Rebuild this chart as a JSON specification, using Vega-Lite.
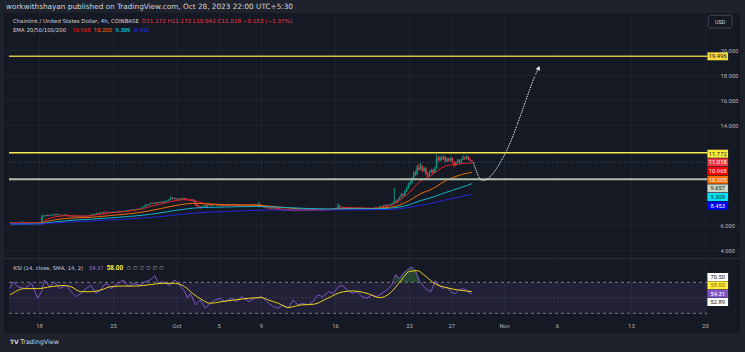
{
"$schema":"https://vega.github.io/schema/vega-lite/v6.json",
"width":736,"height":320,"autosize":"none",
"padding":{"left":4,"top":13,"right":5,"bottom":19},
"background":"#1e222d",
"config":{"view":{"fill":"#151924","stroke":null},"font":"Roboto",
 "axis":{"domain":false,"ticks":false,"labelFont":"Roboto","labelFontSize":5.8,"labelColor":"#b2b5be","gridColor":"#1d2130","gridWidth":1}},
"title":{"text":"workwithshayan published on TradingView.com, Oct 28, 2023 22:00 UTC+5:30","anchor":"start","frame":"group","offset":2,"fontSize":7.3,"fontWeight":"normal","font":"DejaVu Sans","color":"#d1d4dc","dx":2},
"datasets":{
"ticks":[
{"d":"2023-09-18T00:00","lab":"18"},{"d":"2023-09-25T00:00","lab":"25"},{"d":"2023-10-01T00:00","lab":"Oct"},{"d":"2023-10-05T00:00","lab":"5"},
{"d":"2023-10-09T00:00","lab":"9"},{"d":"2023-10-16T00:00","lab":"16"},{"d":"2023-10-23T00:00","lab":"23"},{"d":"2023-10-27T00:00","lab":"27"},
{"d":"2023-11-01T00:00","lab":"Nov"},{"d":"2023-11-06T00:00","lab":"6"},{"d":"2023-11-13T00:00","lab":"13"},{"d":"2023-11-20T00:00","lab":"20"}
],
"c":[
{"t":"2023-09-15T05:30","o":6.17,"h":6.2,"l":6.15,"c":6.18},
{"t":"2023-09-15T09:30","o":6.18,"h":6.19,"l":6.14,"c":6.16},
{"t":"2023-09-15T13:30","o":6.16,"h":6.24,"l":6.15,"c":6.2},
{"t":"2023-09-15T17:30","o":6.2,"h":6.22,"l":6.15,"c":6.17},
{"t":"2023-09-15T21:30","o":6.17,"h":6.18,"l":6.12,"c":6.15},
{"t":"2023-09-16T01:30","o":6.15,"h":6.18,"l":6.13,"c":6.16},
{"t":"2023-09-16T05:30","o":6.16,"h":6.2,"l":6.15,"c":6.18},
{"t":"2023-09-16T09:30","o":6.18,"h":6.3,"l":6.17,"c":6.22},
{"t":"2023-09-16T13:30","o":6.22,"h":6.24,"l":6.17,"c":6.19},
{"t":"2023-09-16T17:30","o":6.19,"h":6.21,"l":6.15,"c":6.17},
{"t":"2023-09-16T21:30","o":6.17,"h":6.19,"l":6.14,"c":6.16},
{"t":"2023-09-17T01:30","o":6.16,"h":6.18,"l":6.12,"c":6.15},
{"t":"2023-09-17T05:30","o":6.15,"h":6.2,"l":6.13,"c":6.18},
{"t":"2023-09-17T09:30","o":6.18,"h":6.19,"l":6.11,"c":6.14},
{"t":"2023-09-17T13:30","o":6.14,"h":6.18,"l":6.12,"c":6.16},
{"t":"2023-09-17T17:30","o":6.16,"h":6.22,"l":6.15,"c":6.19},
{"t":"2023-09-17T21:30","o":6.19,"h":6.21,"l":6.14,"c":6.17},
{"t":"2023-09-18T01:30","o":6.17,"h":6.26,"l":6.15,"c":6.22},
{"t":"2023-09-18T05:30","o":6.22,"h":6.85,"l":6.2,"c":6.7},
{"t":"2023-09-18T09:30","o":6.7,"h":6.82,"l":6.66,"c":6.76},
{"t":"2023-09-18T13:30","o":6.76,"h":6.8,"l":6.68,"c":6.72},
{"t":"2023-09-18T17:30","o":6.72,"h":6.86,"l":6.7,"c":6.8},
{"t":"2023-09-18T21:30","o":6.8,"h":6.82,"l":6.71,"c":6.74},
{"t":"2023-09-19T01:30","o":6.74,"h":6.82,"l":6.72,"c":6.78},
{"t":"2023-09-19T05:30","o":6.78,"h":6.9,"l":6.76,"c":6.83},
{"t":"2023-09-19T09:30","o":6.83,"h":6.86,"l":6.76,"c":6.79},
{"t":"2023-09-19T13:30","o":6.79,"h":6.92,"l":6.77,"c":6.86},
{"t":"2023-09-19T17:30","o":6.86,"h":6.88,"l":6.78,"c":6.81},
{"t":"2023-09-19T21:30","o":6.81,"h":6.83,"l":6.74,"c":6.77},
{"t":"2023-09-20T01:30","o":6.77,"h":6.84,"l":6.75,"c":6.8},
{"t":"2023-09-20T05:30","o":6.8,"h":6.82,"l":6.73,"c":6.76},
{"t":"2023-09-20T09:30","o":6.76,"h":6.88,"l":6.74,"c":6.82},
{"t":"2023-09-20T13:30","o":6.82,"h":6.84,"l":6.71,"c":6.74},
{"t":"2023-09-20T17:30","o":6.74,"h":6.77,"l":6.66,"c":6.7},
{"t":"2023-09-20T21:30","o":6.7,"h":6.76,"l":6.68,"c":6.73},
{"t":"2023-09-21T01:30","o":6.73,"h":6.75,"l":6.66,"c":6.69},
{"t":"2023-09-21T05:30","o":6.69,"h":6.75,"l":6.67,"c":6.72},
{"t":"2023-09-21T09:30","o":6.72,"h":6.74,"l":6.62,"c":6.66},
{"t":"2023-09-21T13:30","o":6.66,"h":6.73,"l":6.63,"c":6.7},
{"t":"2023-09-21T17:30","o":6.7,"h":6.72,"l":6.63,"c":6.67},
{"t":"2023-09-21T21:30","o":6.67,"h":6.74,"l":6.65,"c":6.71},
{"t":"2023-09-22T01:30","o":6.71,"h":6.73,"l":6.64,"c":6.68},
{"t":"2023-09-22T05:30","o":6.68,"h":6.75,"l":6.66,"c":6.72},
{"t":"2023-09-22T09:30","o":6.72,"h":6.74,"l":6.66,"c":6.69},
{"t":"2023-09-22T13:30","o":6.69,"h":6.77,"l":6.67,"c":6.74},
{"t":"2023-09-22T17:30","o":6.74,"h":6.82,"l":6.72,"c":6.78},
{"t":"2023-09-22T21:30","o":6.78,"h":6.86,"l":6.76,"c":6.82},
{"t":"2023-09-23T01:30","o":6.82,"h":6.9,"l":6.8,"c":6.86},
{"t":"2023-09-23T05:30","o":6.86,"h":6.94,"l":6.84,"c":6.9},
{"t":"2023-09-23T09:30","o":6.9,"h":7.0,"l":6.88,"c":6.95},
{"t":"2023-09-23T13:30","o":6.95,"h":6.98,"l":6.89,"c":6.92},
{"t":"2023-09-23T17:30","o":6.92,"h":7.05,"l":6.9,"c":7.0},
{"t":"2023-09-23T21:30","o":7.0,"h":7.02,"l":6.93,"c":6.96},
{"t":"2023-09-24T01:30","o":6.96,"h":7.06,"l":6.94,"c":7.02},
{"t":"2023-09-24T05:30","o":7.02,"h":7.1,"l":7.0,"c":7.06},
{"t":"2023-09-24T09:30","o":7.06,"h":7.08,"l":6.98,"c":7.01},
{"t":"2023-09-24T13:30","o":7.01,"h":7.07,"l":6.99,"c":7.04},
{"t":"2023-09-24T17:30","o":7.04,"h":7.06,"l":6.95,"c":6.98},
{"t":"2023-09-24T21:30","o":6.98,"h":7.06,"l":6.96,"c":7.03},
{"t":"2023-09-25T01:30","o":7.03,"h":7.09,"l":7.01,"c":7.06},
{"t":"2023-09-25T05:30","o":7.06,"h":7.08,"l":6.99,"c":7.02},
{"t":"2023-09-25T09:30","o":7.02,"h":7.11,"l":7.0,"c":7.08},
{"t":"2023-09-25T13:30","o":7.08,"h":7.16,"l":7.06,"c":7.12},
{"t":"2023-09-25T17:30","o":7.12,"h":7.14,"l":7.02,"c":7.05},
{"t":"2023-09-25T21:30","o":7.05,"h":7.13,"l":7.03,"c":7.1},
{"t":"2023-09-26T01:30","o":7.1,"h":7.17,"l":7.08,"c":7.14},
{"t":"2023-09-26T05:30","o":7.14,"h":7.22,"l":7.12,"c":7.18},
{"t":"2023-09-26T09:30","o":7.18,"h":7.2,"l":7.09,"c":7.12},
{"t":"2023-09-26T13:30","o":7.12,"h":7.24,"l":7.1,"c":7.2},
{"t":"2023-09-26T17:30","o":7.2,"h":7.28,"l":7.18,"c":7.24},
{"t":"2023-09-26T21:30","o":7.24,"h":7.26,"l":7.15,"c":7.18},
{"t":"2023-09-27T01:30","o":7.18,"h":7.26,"l":7.16,"c":7.22},
{"t":"2023-09-27T05:30","o":7.22,"h":7.32,"l":7.2,"c":7.28},
{"t":"2023-09-27T09:30","o":7.28,"h":7.31,"l":7.21,"c":7.24},
{"t":"2023-09-27T13:30","o":7.24,"h":7.38,"l":7.22,"c":7.34},
{"t":"2023-09-27T17:30","o":7.34,"h":7.48,"l":7.32,"c":7.42},
{"t":"2023-09-27T21:30","o":7.42,"h":7.56,"l":7.4,"c":7.5},
{"t":"2023-09-28T01:30","o":7.5,"h":7.7,"l":7.48,"c":7.62},
{"t":"2023-09-28T05:30","o":7.62,"h":7.66,"l":7.54,"c":7.58},
{"t":"2023-09-28T09:30","o":7.58,"h":7.73,"l":7.56,"c":7.68},
{"t":"2023-09-28T13:30","o":7.68,"h":7.8,"l":7.65,"c":7.74},
{"t":"2023-09-28T17:30","o":7.74,"h":7.78,"l":7.66,"c":7.7},
{"t":"2023-09-28T21:30","o":7.7,"h":7.84,"l":7.68,"c":7.78},
{"t":"2023-09-29T01:30","o":7.78,"h":7.81,"l":7.7,"c":7.74},
{"t":"2023-09-29T05:30","o":7.74,"h":7.87,"l":7.72,"c":7.82},
{"t":"2023-09-29T09:30","o":7.82,"h":7.85,"l":7.75,"c":7.78},
{"t":"2023-09-29T13:30","o":7.78,"h":7.92,"l":7.76,"c":7.86},
{"t":"2023-09-29T17:30","o":7.86,"h":7.89,"l":7.77,"c":7.8},
{"t":"2023-09-29T21:30","o":7.8,"h":7.95,"l":7.78,"c":7.9},
{"t":"2023-09-30T01:30","o":7.9,"h":8.01,"l":7.88,"c":7.96},
{"t":"2023-09-30T05:30","o":7.96,"h":8.08,"l":7.93,"c":8.02},
{"t":"2023-09-30T09:30","o":8.02,"h":8.28,"l":8.0,"c":8.18},
{"t":"2023-09-30T13:30","o":8.18,"h":8.22,"l":8.06,"c":8.1},
{"t":"2023-09-30T17:30","o":8.1,"h":8.21,"l":8.07,"c":8.16},
{"t":"2023-09-30T21:30","o":8.16,"h":8.18,"l":8.04,"c":8.08},
{"t":"2023-10-01T01:30","o":8.08,"h":8.11,"l":8.0,"c":8.04},
{"t":"2023-10-01T05:30","o":8.04,"h":8.16,"l":8.02,"c":8.12},
{"t":"2023-10-01T09:30","o":8.12,"h":8.14,"l":8.02,"c":8.06},
{"t":"2023-10-01T13:30","o":8.06,"h":8.2,"l":8.04,"c":8.14},
{"t":"2023-10-01T17:30","o":8.14,"h":8.18,"l":8.06,"c":8.1},
{"t":"2023-10-01T21:30","o":8.1,"h":8.13,"l":8.01,"c":8.05},
{"t":"2023-10-02T01:30","o":8.05,"h":8.08,"l":7.96,"c":8.0},
{"t":"2023-10-02T05:30","o":8.0,"h":8.03,"l":7.92,"c":7.96},
{"t":"2023-10-02T09:30","o":7.96,"h":8.06,"l":7.93,"c":8.02},
{"t":"2023-10-02T13:30","o":8.02,"h":8.05,"l":7.84,"c":7.88},
{"t":"2023-10-02T17:30","o":7.88,"h":7.9,"l":7.56,"c":7.62},
{"t":"2023-10-02T21:30","o":7.62,"h":7.66,"l":7.46,"c":7.52},
{"t":"2023-10-03T01:30","o":7.52,"h":7.56,"l":7.38,"c":7.45},
{"t":"2023-10-03T05:30","o":7.45,"h":7.48,"l":7.32,"c":7.38},
{"t":"2023-10-03T09:30","o":7.38,"h":7.54,"l":7.35,"c":7.5},
{"t":"2023-10-03T13:30","o":7.5,"h":7.6,"l":7.47,"c":7.56},
{"t":"2023-10-03T17:30","o":7.56,"h":7.59,"l":7.44,"c":7.48},
{"t":"2023-10-03T21:30","o":7.48,"h":7.62,"l":7.46,"c":7.58},
{"t":"2023-10-04T01:30","o":7.58,"h":7.66,"l":7.55,"c":7.62},
{"t":"2023-10-04T05:30","o":7.62,"h":7.64,"l":7.52,"c":7.55},
{"t":"2023-10-04T09:30","o":7.55,"h":7.63,"l":7.53,"c":7.6},
{"t":"2023-10-04T13:30","o":7.6,"h":7.7,"l":7.58,"c":7.66},
{"t":"2023-10-04T17:30","o":7.66,"h":7.68,"l":7.55,"c":7.58},
{"t":"2023-10-04T21:30","o":7.58,"h":7.66,"l":7.56,"c":7.63},
{"t":"2023-10-05T01:30","o":7.63,"h":7.65,"l":7.54,"c":7.57},
{"t":"2023-10-05T05:30","o":7.57,"h":7.6,"l":7.48,"c":7.52},
{"t":"2023-10-05T09:30","o":7.52,"h":7.63,"l":7.5,"c":7.6},
{"t":"2023-10-05T13:30","o":7.6,"h":7.62,"l":7.52,"c":7.55},
{"t":"2023-10-05T17:30","o":7.55,"h":7.66,"l":7.53,"c":7.62},
{"t":"2023-10-05T21:30","o":7.62,"h":7.64,"l":7.55,"c":7.58},
{"t":"2023-10-06T01:30","o":7.58,"h":7.63,"l":7.56,"c":7.6},
{"t":"2023-10-06T05:30","o":7.6,"h":7.7,"l":7.58,"c":7.66},
{"t":"2023-10-06T09:30","o":7.66,"h":7.68,"l":7.55,"c":7.58},
{"t":"2023-10-06T13:30","o":7.58,"h":7.67,"l":7.56,"c":7.64},
{"t":"2023-10-06T17:30","o":7.64,"h":7.66,"l":7.53,"c":7.56},
{"t":"2023-10-06T21:30","o":7.56,"h":7.65,"l":7.54,"c":7.62},
{"t":"2023-10-07T01:30","o":7.62,"h":7.64,"l":7.56,"c":7.58},
{"t":"2023-10-07T05:30","o":7.58,"h":7.63,"l":7.56,"c":7.61},
{"t":"2023-10-07T09:30","o":7.61,"h":7.62,"l":7.54,"c":7.56},
{"t":"2023-10-07T13:30","o":7.56,"h":7.62,"l":7.54,"c":7.6},
{"t":"2023-10-07T17:30","o":7.6,"h":7.61,"l":7.53,"c":7.55},
{"t":"2023-10-07T21:30","o":7.55,"h":7.61,"l":7.53,"c":7.59},
{"t":"2023-10-08T01:30","o":7.59,"h":7.64,"l":7.57,"c":7.62},
{"t":"2023-10-08T05:30","o":7.62,"h":7.63,"l":7.55,"c":7.57},
{"t":"2023-10-08T09:30","o":7.57,"h":7.68,"l":7.56,"c":7.65},
{"t":"2023-10-08T13:30","o":7.65,"h":7.67,"l":7.58,"c":7.6},
{"t":"2023-10-08T17:30","o":7.6,"h":7.85,"l":7.58,"c":7.68},
{"t":"2023-10-08T21:30","o":7.68,"h":7.7,"l":7.55,"c":7.58},
{"t":"2023-10-09T01:30","o":7.58,"h":7.6,"l":7.46,"c":7.5},
{"t":"2023-10-09T05:30","o":7.5,"h":7.52,"l":7.38,"c":7.42},
{"t":"2023-10-09T09:30","o":7.42,"h":7.45,"l":7.32,"c":7.36},
{"t":"2023-10-09T13:30","o":7.36,"h":7.43,"l":7.33,"c":7.4},
{"t":"2023-10-09T17:30","o":7.4,"h":7.42,"l":7.28,"c":7.32},
{"t":"2023-10-09T21:30","o":7.32,"h":7.35,"l":7.24,"c":7.28},
{"t":"2023-10-10T01:30","o":7.28,"h":7.33,"l":7.25,"c":7.3},
{"t":"2023-10-10T05:30","o":7.3,"h":7.32,"l":7.2,"c":7.24},
{"t":"2023-10-10T09:30","o":7.24,"h":7.31,"l":7.22,"c":7.28},
{"t":"2023-10-10T13:30","o":7.28,"h":7.3,"l":7.19,"c":7.22},
{"t":"2023-10-10T17:30","o":7.22,"h":7.29,"l":7.2,"c":7.26},
{"t":"2023-10-10T21:30","o":7.26,"h":7.28,"l":7.16,"c":7.2},
{"t":"2023-10-11T01:30","o":7.2,"h":7.25,"l":7.17,"c":7.22},
{"t":"2023-10-11T05:30","o":7.22,"h":7.24,"l":7.14,"c":7.17},
{"t":"2023-10-11T09:30","o":7.17,"h":7.28,"l":7.15,"c":7.24},
{"t":"2023-10-11T13:30","o":7.24,"h":7.26,"l":7.15,"c":7.18},
{"t":"2023-10-11T17:30","o":7.18,"h":7.2,"l":7.1,"c":7.14},
{"t":"2023-10-11T21:30","o":7.14,"h":7.23,"l":7.12,"c":7.2},
{"t":"2023-10-12T01:30","o":7.2,"h":7.22,"l":7.13,"c":7.16},
{"t":"2023-10-12T05:30","o":7.16,"h":7.18,"l":7.08,"c":7.12},
{"t":"2023-10-12T09:30","o":7.12,"h":7.21,"l":7.1,"c":7.18},
{"t":"2023-10-12T13:30","o":7.18,"h":7.2,"l":7.11,"c":7.14},
{"t":"2023-10-12T17:30","o":7.14,"h":7.23,"l":7.12,"c":7.2},
{"t":"2023-10-12T21:30","o":7.2,"h":7.22,"l":7.12,"c":7.15},
{"t":"2023-10-13T01:30","o":7.15,"h":7.21,"l":7.13,"c":7.18},
{"t":"2023-10-13T05:30","o":7.18,"h":7.26,"l":7.16,"c":7.22},
{"t":"2023-10-13T09:30","o":7.22,"h":7.24,"l":7.13,"c":7.16},
{"t":"2023-10-13T13:30","o":7.16,"h":7.23,"l":7.14,"c":7.2},
{"t":"2023-10-13T17:30","o":7.2,"h":7.22,"l":7.11,"c":7.14},
{"t":"2023-10-13T21:30","o":7.14,"h":7.21,"l":7.12,"c":7.19},
{"t":"2023-10-14T01:30","o":7.19,"h":7.23,"l":7.17,"c":7.21},
{"t":"2023-10-14T05:30","o":7.21,"h":7.22,"l":7.16,"c":7.18},
{"t":"2023-10-14T09:30","o":7.18,"h":7.24,"l":7.17,"c":7.22},
{"t":"2023-10-14T13:30","o":7.22,"h":7.23,"l":7.17,"c":7.19},
{"t":"2023-10-14T17:30","o":7.19,"h":7.25,"l":7.18,"c":7.23},
{"t":"2023-10-14T21:30","o":7.23,"h":7.24,"l":7.18,"c":7.2},
{"t":"2023-10-15T01:30","o":7.2,"h":7.24,"l":7.18,"c":7.22},
{"t":"2023-10-15T05:30","o":7.22,"h":7.28,"l":7.2,"c":7.26},
{"t":"2023-10-15T09:30","o":7.26,"h":7.28,"l":7.21,"c":7.23},
{"t":"2023-10-15T13:30","o":7.23,"h":7.3,"l":7.22,"c":7.28},
{"t":"2023-10-15T17:30","o":7.28,"h":7.3,"l":7.23,"c":7.25},
{"t":"2023-10-15T21:30","o":7.25,"h":7.33,"l":7.24,"c":7.3},
{"t":"2023-10-16T01:30","o":7.3,"h":7.38,"l":7.28,"c":7.34},
{"t":"2023-10-16T05:30","o":7.34,"h":7.75,"l":7.32,"c":7.55},
{"t":"2023-10-16T09:30","o":7.55,"h":7.58,"l":7.38,"c":7.42},
{"t":"2023-10-16T13:30","o":7.42,"h":7.46,"l":7.34,"c":7.38},
{"t":"2023-10-16T17:30","o":7.38,"h":7.48,"l":7.36,"c":7.44},
{"t":"2023-10-16T21:30","o":7.44,"h":7.46,"l":7.37,"c":7.4},
{"t":"2023-10-17T01:30","o":7.4,"h":7.42,"l":7.33,"c":7.36},
{"t":"2023-10-17T05:30","o":7.36,"h":7.43,"l":7.34,"c":7.4},
{"t":"2023-10-17T09:30","o":7.4,"h":7.42,"l":7.31,"c":7.34},
{"t":"2023-10-17T13:30","o":7.34,"h":7.4,"l":7.32,"c":7.38},
{"t":"2023-10-17T17:30","o":7.38,"h":7.4,"l":7.3,"c":7.33},
{"t":"2023-10-17T21:30","o":7.33,"h":7.38,"l":7.31,"c":7.36},
{"t":"2023-10-18T01:30","o":7.36,"h":7.38,"l":7.32,"c":7.34},
{"t":"2023-10-18T05:30","o":7.34,"h":7.4,"l":7.33,"c":7.38},
{"t":"2023-10-18T09:30","o":7.38,"h":7.39,"l":7.3,"c":7.32},
{"t":"2023-10-18T13:30","o":7.32,"h":7.38,"l":7.3,"c":7.36},
{"t":"2023-10-18T17:30","o":7.36,"h":7.38,"l":7.31,"c":7.33},
{"t":"2023-10-18T21:30","o":7.33,"h":7.37,"l":7.31,"c":7.35},
{"t":"2023-10-19T01:30","o":7.35,"h":7.36,"l":7.27,"c":7.3},
{"t":"2023-10-19T05:30","o":7.3,"h":7.36,"l":7.28,"c":7.34},
{"t":"2023-10-19T09:30","o":7.34,"h":7.35,"l":7.26,"c":7.29},
{"t":"2023-10-19T13:30","o":7.29,"h":7.35,"l":7.27,"c":7.33},
{"t":"2023-10-19T17:30","o":7.33,"h":7.41,"l":7.31,"c":7.38},
{"t":"2023-10-19T21:30","o":7.38,"h":7.4,"l":7.33,"c":7.36},
{"t":"2023-10-20T01:30","o":7.36,"h":7.46,"l":7.34,"c":7.42},
{"t":"2023-10-20T05:30","o":7.42,"h":7.55,"l":7.4,"c":7.5},
{"t":"2023-10-20T09:30","o":7.5,"h":7.53,"l":7.42,"c":7.46},
{"t":"2023-10-20T13:30","o":7.46,"h":7.63,"l":7.44,"c":7.58},
{"t":"2023-10-20T17:30","o":7.58,"h":7.68,"l":7.55,"c":7.62},
{"t":"2023-10-20T21:30","o":7.62,"h":7.65,"l":7.5,"c":7.55},
{"t":"2023-10-21T01:30","o":7.55,"h":7.64,"l":7.52,"c":7.6},
{"t":"2023-10-21T05:30","o":7.6,"h":7.73,"l":7.57,"c":7.68},
{"t":"2023-10-21T09:30","o":7.68,"h":7.78,"l":7.64,"c":7.72},
{"t":"2023-10-21T13:30","o":7.72,"h":8.96,"l":7.7,"c":7.9},
{"t":"2023-10-21T17:30","o":7.9,"h":7.98,"l":7.76,"c":7.82},
{"t":"2023-10-21T21:30","o":7.82,"h":8.12,"l":7.8,"c":8.05},
{"t":"2023-10-22T01:30","o":8.05,"h":8.3,"l":8.0,"c":8.2},
{"t":"2023-10-22T05:30","o":8.2,"h":8.55,"l":8.15,"c":8.45},
{"t":"2023-10-22T09:30","o":8.45,"h":8.52,"l":8.28,"c":8.35},
{"t":"2023-10-22T13:30","o":8.35,"h":8.8,"l":8.3,"c":8.7},
{"t":"2023-10-22T17:30","o":8.7,"h":9.05,"l":8.65,"c":8.95},
{"t":"2023-10-22T21:30","o":8.95,"h":9.38,"l":8.9,"c":9.25},
{"t":"2023-10-23T01:30","o":9.25,"h":9.55,"l":9.15,"c":9.4},
{"t":"2023-10-23T05:30","o":9.4,"h":9.85,"l":9.35,"c":9.75},
{"t":"2023-10-23T09:30","o":9.75,"h":10.3,"l":9.7,"c":10.15},
{"t":"2023-10-23T13:30","o":10.15,"h":10.35,"l":9.9,"c":10.05},
{"t":"2023-10-23T17:30","o":10.05,"h":10.8,"l":10.0,"c":10.6},
{"t":"2023-10-23T21:30","o":10.6,"h":10.9,"l":10.35,"c":10.45},
{"t":"2023-10-24T01:30","o":10.45,"h":10.95,"l":10.4,"c":10.7},
{"t":"2023-10-24T05:30","o":10.7,"h":10.78,"l":10.25,"c":10.35},
{"t":"2023-10-24T09:30","o":10.35,"h":10.65,"l":10.25,"c":10.55},
{"t":"2023-10-24T13:30","o":10.55,"h":10.6,"l":10.0,"c":10.1},
{"t":"2023-10-24T17:30","o":10.1,"h":10.2,"l":9.8,"c":9.95},
{"t":"2023-10-24T21:30","o":9.95,"h":10.35,"l":9.9,"c":10.25},
{"t":"2023-10-25T01:30","o":10.25,"h":10.5,"l":10.15,"c":10.4},
{"t":"2023-10-25T05:30","o":10.4,"h":10.48,"l":10.1,"c":10.2},
{"t":"2023-10-25T09:30","o":10.2,"h":10.65,"l":10.15,"c":10.55},
{"t":"2023-10-25T13:30","o":10.55,"h":11.65,"l":10.5,"c":11.35},
{"t":"2023-10-25T17:30","o":11.35,"h":11.5,"l":11.05,"c":11.2},
{"t":"2023-10-25T21:30","o":11.2,"h":11.55,"l":11.1,"c":11.4},
{"t":"2023-10-26T01:30","o":11.4,"h":11.5,"l":11.15,"c":11.25},
{"t":"2023-10-26T05:30","o":11.25,"h":11.6,"l":11.2,"c":11.45},
{"t":"2023-10-26T09:30","o":11.45,"h":11.5,"l":11.0,"c":11.1},
{"t":"2023-10-26T13:30","o":11.1,"h":11.4,"l":11.05,"c":11.3},
{"t":"2023-10-26T17:30","o":11.3,"h":11.38,"l":11.05,"c":11.15},
{"t":"2023-10-26T21:30","o":11.15,"h":11.45,"l":11.1,"c":11.35},
{"t":"2023-10-27T01:30","o":11.35,"h":11.4,"l":10.95,"c":11.05},
{"t":"2023-10-27T05:30","o":11.05,"h":11.1,"l":10.65,"c":10.8},
{"t":"2023-10-27T09:30","o":10.8,"h":11.08,"l":10.72,"c":11.0},
{"t":"2023-10-27T13:30","o":11.0,"h":11.3,"l":10.95,"c":11.2},
{"t":"2023-10-27T17:30","o":11.2,"h":11.25,"l":10.88,"c":10.95},
{"t":"2023-10-27T21:30","o":10.95,"h":11.32,"l":10.9,"c":11.25},
{"t":"2023-10-28T01:30","o":11.25,"h":11.62,"l":11.2,"c":11.4},
{"t":"2023-10-28T05:30","o":11.4,"h":11.48,"l":11.22,"c":11.3},
{"t":"2023-10-28T09:30","o":11.3,"h":11.6,"l":11.25,"c":11.45},
{"t":"2023-10-28T13:30","o":11.45,"h":11.52,"l":11.18,"c":11.25},
{"t":"2023-10-28T17:30","o":11.25,"h":11.35,"l":11.1,"c":11.172},
{"t":"2023-10-28T21:30","o":11.172,"h":11.172,"l":10.942,"c":11.018}
],
"e":[
{"t":"2023-09-15T05:30","e20":6.17,"e50":6.12,"e100":6.08,"e200":6.1},
{"t":"2023-09-16T12:00","e20":6.17,"e50":6.13,"e100":6.08,"e200":6.09},
{"t":"2023-09-17T12:00","e20":6.17,"e50":6.14,"e100":6.09,"e200":6.09},
{"t":"2023-09-18T04:00","e20":6.17,"e50":6.14,"e100":6.1,"e200":6.09},
{"t":"2023-09-18T12:00","e20":6.38,"e50":6.24,"e100":6.14,"e200":6.11},
{"t":"2023-09-19T00:00","e20":6.55,"e50":6.34,"e100":6.2,"e200":6.14},
{"t":"2023-09-19T12:00","e20":6.66,"e50":6.42,"e100":6.25,"e200":6.17},
{"t":"2023-09-20T12:00","e20":6.75,"e50":6.53,"e100":6.34,"e200":6.22},
{"t":"2023-09-21T12:00","e20":6.73,"e50":6.58,"e100":6.41,"e200":6.27},
{"t":"2023-09-22T12:00","e20":6.71,"e50":6.6,"e100":6.45,"e200":6.31},
{"t":"2023-09-23T12:00","e20":6.82,"e50":6.66,"e100":6.5,"e200":6.35},
{"t":"2023-09-24T12:00","e20":6.95,"e50":6.74,"e100":6.56,"e200":6.4},
{"t":"2023-09-25T12:00","e20":7.03,"e50":6.82,"e100":6.62,"e200":6.44},
{"t":"2023-09-26T12:00","e20":7.12,"e50":6.9,"e100":6.69,"e200":6.49},
{"t":"2023-09-27T12:00","e20":7.25,"e50":7.0,"e100":6.76,"e200":6.54},
{"t":"2023-09-28T12:00","e20":7.48,"e50":7.15,"e100":6.86,"e200":6.6},
{"t":"2023-09-29T12:00","e20":7.68,"e50":7.32,"e100":6.98,"e200":6.68},
{"t":"2023-09-30T12:00","e20":7.9,"e50":7.5,"e100":7.12,"e200":6.77},
{"t":"2023-10-01T12:00","e20":8.02,"e50":7.65,"e100":7.25,"e200":6.86},
{"t":"2023-10-02T12:00","e20":8.0,"e50":7.74,"e100":7.35,"e200":6.94},
{"t":"2023-10-03T12:00","e20":7.74,"e50":7.7,"e100":7.4,"e200":7.0},
{"t":"2023-10-04T12:00","e20":7.64,"e50":7.66,"e100":7.42,"e200":7.04},
{"t":"2023-10-05T12:00","e20":7.59,"e50":7.63,"e100":7.44,"e200":7.08},
{"t":"2023-10-06T12:00","e20":7.59,"e50":7.61,"e100":7.46,"e200":7.11},
{"t":"2023-10-07T12:00","e20":7.58,"e50":7.6,"e100":7.47,"e200":7.14},
{"t":"2023-10-08T12:00","e20":7.6,"e50":7.59,"e100":7.48,"e200":7.17},
{"t":"2023-10-09T12:00","e20":7.47,"e50":7.53,"e100":7.47,"e200":7.19},
{"t":"2023-10-10T12:00","e20":7.32,"e50":7.45,"e100":7.43,"e200":7.2},
{"t":"2023-10-11T12:00","e20":7.24,"e50":7.37,"e100":7.39,"e200":7.2},
{"t":"2023-10-12T12:00","e20":7.19,"e50":7.3,"e100":7.35,"e200":7.2},
{"t":"2023-10-13T12:00","e20":7.18,"e50":7.26,"e100":7.32,"e200":7.2},
{"t":"2023-10-14T12:00","e20":7.2,"e50":7.24,"e100":7.3,"e200":7.2},
{"t":"2023-10-15T12:00","e20":7.23,"e50":7.24,"e100":7.29,"e200":7.2},
{"t":"2023-10-16T12:00","e20":7.36,"e50":7.29,"e100":7.29,"e200":7.21},
{"t":"2023-10-17T12:00","e20":7.38,"e50":7.31,"e100":7.3,"e200":7.22},
{"t":"2023-10-18T12:00","e20":7.36,"e50":7.32,"e100":7.3,"e200":7.22},
{"t":"2023-10-19T12:00","e20":7.34,"e50":7.32,"e100":7.3,"e200":7.23},
{"t":"2023-10-20T00:00","e20":7.36,"e50":7.33,"e100":7.3,"e200":7.23},
{"t":"2023-10-20T12:00","e20":7.42,"e50":7.36,"e100":7.32,"e200":7.24},
{"t":"2023-10-21T00:00","e20":7.52,"e50":7.4,"e100":7.34,"e200":7.25},
{"t":"2023-10-21T12:00","e20":7.65,"e50":7.46,"e100":7.37,"e200":7.26},
{"t":"2023-10-22T00:00","e20":7.9,"e50":7.58,"e100":7.43,"e200":7.3},
{"t":"2023-10-22T12:00","e20":8.25,"e50":7.76,"e100":7.52,"e200":7.35},
{"t":"2023-10-23T00:00","e20":8.6,"e50":7.96,"e100":7.63,"e200":7.41},
{"t":"2023-10-23T12:00","e20":9.05,"e50":8.22,"e100":7.78,"e200":7.49},
{"t":"2023-10-24T00:00","e20":9.5,"e50":8.48,"e100":7.94,"e200":7.58},
{"t":"2023-10-24T12:00","e20":9.75,"e50":8.66,"e100":8.06,"e200":7.65},
{"t":"2023-10-25T00:00","e20":9.92,"e50":8.82,"e100":8.18,"e200":7.73},
{"t":"2023-10-25T12:00","e20":10.25,"e50":9.05,"e100":8.32,"e200":7.82},
{"t":"2023-10-26T00:00","e20":10.55,"e50":9.33,"e100":8.47,"e200":7.92},
{"t":"2023-10-26T12:00","e20":10.75,"e50":9.58,"e100":8.62,"e200":8.02},
{"t":"2023-10-27T00:00","e20":10.82,"e50":9.76,"e100":8.76,"e200":8.11},
{"t":"2023-10-27T12:00","e20":10.86,"e50":9.92,"e100":8.9,"e200":8.2},
{"t":"2023-10-28T00:00","e20":10.92,"e50":10.05,"e100":9.04,"e200":8.29},
{"t":"2023-10-28T12:00","e20":10.95,"e50":10.15,"e100":9.18,"e200":8.38},
{"t":"2023-10-28T21:30","e20":10.968,"e50":10.205,"e100":9.309,"e200":8.453}
],
"r":[
{"t":"2023-09-15T05:00","r":61.9},{"t":"2023-09-15T11:30","r":70.8},{"t":"2023-09-15T23:00","r":64.3},{"t":"2023-09-16T14:30","r":61.9},
{"t":"2023-09-17T06:00","r":68.7},{"t":"2023-09-17T19:30","r":49.4},{"t":"2023-09-18T04:30","r":57.9},{"t":"2023-09-18T11:00","r":73},
{"t":"2023-09-18T22:30","r":64.3},{"t":"2023-09-19T09:30","r":70.8},{"t":"2023-09-19T21:00","r":61.9},{"t":"2023-09-20T12:30","r":66},
{"t":"2023-09-20T23:30","r":57.9},{"t":"2023-09-21T11:00","r":51.5},{"t":"2023-09-21T22:00","r":55.7},{"t":"2023-09-22T09:30","r":61.9},
{"t":"2023-09-22T20:30","r":66},{"t":"2023-09-23T07:30","r":55.7},{"t":"2023-09-23T19:00","r":60},{"t":"2023-09-24T01:30","r":66},
{"t":"2023-09-24T08:30","r":68.7},{"t":"2023-09-24T17:30","r":61.9},{"t":"2023-09-25T00:00","r":64.3},{"t":"2023-09-25T11:00","r":68.7},
{"t":"2023-09-25T22:30","r":73},{"t":"2023-09-26T09:30","r":64.3},{"t":"2023-09-26T21:00","r":68.7},{"t":"2023-09-27T12:30","r":66},
{"t":"2023-09-27T23:30","r":70.8},{"t":"2023-09-28T11:00","r":73},{"t":"2023-09-28T22:00","r":78.5},{"t":"2023-09-29T05:00","r":68.7},
{"t":"2023-09-29T16:00","r":70.8},{"t":"2023-09-30T07:30","r":66},{"t":"2023-09-30T19:00","r":73},{"t":"2023-10-01T06:00","r":66},
{"t":"2023-10-01T17:30","r":57.9},{"t":"2023-10-02T00:00","r":49.4},{"t":"2023-10-02T06:30","r":55.7},{"t":"2023-10-02T18:00","r":40.8},
{"t":"2023-10-03T05:00","r":47.2},{"t":"2023-10-03T16:30","r":36.6},{"t":"2023-10-04T03:30","r":43},{"t":"2023-10-04T14:30","r":47.2},
{"t":"2023-10-05T02:00","r":49.4},{"t":"2023-10-05T13:00","r":45.1},{"t":"2023-10-06T05:00","r":49.4},{"t":"2023-10-06T16:00","r":45.1},
{"t":"2023-10-07T03:00","r":51.5},{"t":"2023-10-07T19:00","r":45.1},{"t":"2023-10-08T08:30","r":49.4},{"t":"2023-10-09T00:00","r":51.5},
{"t":"2023-10-09T15:30","r":43},{"t":"2023-10-10T03:00","r":38.7},{"t":"2023-10-10T14:00","r":36.6},{"t":"2023-10-11T01:00","r":40.8},
{"t":"2023-10-11T12:30","r":36.6},{"t":"2023-10-11T23:30","r":47.2},{"t":"2023-10-12T11:00","r":40.8},{"t":"2023-10-12T22:00","r":43},
{"t":"2023-10-13T09:30","r":40.8},{"t":"2023-10-13T20:30","r":45.1},{"t":"2023-10-14T07:30","r":53.6},{"t":"2023-10-14T19:00","r":51.5},
{"t":"2023-10-15T08:30","r":57.9},{"t":"2023-10-15T19:30","r":55.7},{"t":"2023-10-16T06:30","r":64.3},{"t":"2023-10-16T15:30","r":66},
{"t":"2023-10-17T03:00","r":60},{"t":"2023-10-17T14:00","r":55.7},{"t":"2023-10-18T01:00","r":57.9},{"t":"2023-10-18T12:30","r":51.5},
{"t":"2023-10-18T23:30","r":49.4},{"t":"2023-10-19T11:00","r":53.6},{"t":"2023-10-19T22:00","r":51.5},{"t":"2023-10-20T09:30","r":56},
{"t":"2023-10-20T20:30","r":60},{"t":"2023-10-21T07:30","r":66},{"t":"2023-10-21T16:30","r":80},{"t":"2023-10-22T01:30","r":75},
{"t":"2023-10-22T10:30","r":82},{"t":"2023-10-22T19:30","r":86},{"t":"2023-10-23T04:30","r":90},{"t":"2023-10-23T13:30","r":85},
{"t":"2023-10-23T22:30","r":72},{"t":"2023-10-24T07:30","r":65},{"t":"2023-10-24T16:30","r":60},{"t":"2023-10-25T01:00","r":58},
{"t":"2023-10-25T10:30","r":72},{"t":"2023-10-25T19:00","r":66},{"t":"2023-10-26T04:00","r":62},{"t":"2023-10-26T13:00","r":64},
{"t":"2023-10-26T22:00","r":58},{"t":"2023-10-27T07:00","r":55},{"t":"2023-10-27T16:00","r":60},{"t":"2023-10-28T01:00","r":62},
{"t":"2023-10-28T10:00","r":60},{"t":"2023-10-28T21:30","r":54.31}
],
"s":[
{"t":"2023-09-15T05:00","s":53.6},{"t":"2023-09-16T14:00","s":61.9},{"t":"2023-09-17T19:30","s":61.9},{"t":"2023-09-19T02:00","s":64.3},
{"t":"2023-09-20T08:00","s":66},{"t":"2023-09-20T23:30","s":64.3},{"t":"2023-09-21T22:00","s":57.9},{"t":"2023-09-22T20:30","s":57.9},
{"t":"2023-09-23T19:00","s":60},{"t":"2023-09-24T17:30","s":64.3},{"t":"2023-09-25T22:30","s":65.2},{"t":"2023-09-27T03:30","s":65.2},
{"t":"2023-09-28T11:00","s":66.9},{"t":"2023-09-29T16:00","s":68.7},{"t":"2023-09-30T21:00","s":68.7},{"t":"2023-10-01T17:30","s":64.3},
{"t":"2023-10-02T11:30","s":55.7},{"t":"2023-10-03T09:30","s":47.2},{"t":"2023-10-04T03:30","s":43},{"t":"2023-10-05T06:30","s":45.1},
{"t":"2023-10-06T11:30","s":47.2},{"t":"2023-10-07T19:00","s":49.4},{"t":"2023-10-09T00:00","s":50.2},{"t":"2023-10-09T15:30","s":47.2},
{"t":"2023-10-10T14:00","s":43},{"t":"2023-10-11T12:30","s":37.5},{"t":"2023-10-12T17:30","s":40.8},{"t":"2023-10-13T23:00","s":41.7},
{"t":"2023-10-15T06:00","s":49.4},{"t":"2023-10-16T18:00","s":57.9},{"t":"2023-10-17T16:30","s":58.8},{"t":"2023-10-18T23:30","s":55.7},
{"t":"2023-10-20T05:00","s":50.2},{"t":"2023-10-21T07:30","s":58},{"t":"2023-10-22T01:30","s":70},{"t":"2023-10-23T00:00","s":84},
{"t":"2023-10-23T18:00","s":85},{"t":"2023-10-24T12:00","s":78},{"t":"2023-10-25T10:30","s":68},{"t":"2023-10-26T13:00","s":63},
{"t":"2023-10-27T16:00","s":60},{"t":"2023-10-28T21:30","s":58}
],
"proj":[
{"t":"2023-10-29T01:00","p":11.0},{"t":"2023-10-29T21:50","p":9.55},{"t":"2023-10-31T20:50","p":11.42},{"t":"2023-11-01T15:20","p":12.8},
{"t":"2023-11-02T14:00","p":14.94},{"t":"2023-11-03T08:40","p":16.8},{"t":"2023-11-03T23:30","p":18.14},{"t":"2023-11-04T05:30","p":18.56}
],
"pt":[
{"k":"res","v":11.772},{"k":"close","v":11.018},{"k":"ema20","v":10.968},{"k":"ema50","v":10.205},
{"k":"sup","v":9.657},{"k":"ema100","v":9.309},{"k":"ema200","v":8.453}
],
"rt":[
{"k":"bbu","v":70.5},{"k":"sma","v":58.0},{"k":"rsi","v":54.31},{"k":"bbl","v":52.89}
]
},
"layer":[
 {"data":{"name":"ticks"},"mark":{"type":"rule","color":"#1d2130","strokeWidth":1},
  "encoding":{"x":{"field":"d","type":"temporal","scale":{"domain":[{"year":2023,"month":9,"date":15,"hours":2,"minutes":34},{"year":2023,"month":11,"date":22,"hours":19,"minutes":15}],"nice":false},"axis":null},
   "y":{"datum":22.96,"type":"quantitative","scale":{"domain":[-2.64,22.96],"nice":false,"zero":false},"axis":null},"y2":{"datum":-1.44}}},
 {"data":{"name":"c"},"mark":{"type":"rule","strokeWidth":1},
  "encoding":{
   "x":{"field":"t","type":"temporal","scale":{"domain":[{"year":2023,"month":9,"date":15,"hours":2,"minutes":34},{"year":2023,"month":11,"date":22,"hours":19,"minutes":15}],"nice":false},"axis":null},
   "y":{"field":"l","type":"quantitative","scale":{"domain":[-2.64,22.96],"nice":false,"zero":false},
    "axis":{"orient":"right","offset":-22,"values":[4,6,14,16,18,20],"format":".3f","grid":true,"title":null,"zindex":1,"labelPadding":2}},
   "y2":{"field":"h"},
   "color":{"condition":{"test":"datum.c >= datum.o","value":"#089981"},"value":"#f23645"}}},
 {"data":{"name":"c"},"mark":{"type":"bar","size":1.4},
  "encoding":{"x":{"field":"t","type":"temporal","axis":null},"y":{"field":"o","type":"quantitative","scale":{"domain":[-2.64,22.96],"nice":false,"zero":false},"axis":null},"y2":{"field":"c"},
   "color":{"condition":{"test":"datum.c >= datum.o","value":"#089981"},"value":"#f23645"}}},
 {"data":{"name":"e"},"transform":[{"fold":["e20","e50","e100","e200"],"as":["k","v"]}],"mark":{"type":"line","strokeWidth":1},
  "encoding":{"x":{"field":"t","type":"temporal","axis":null},"y":{"field":"v","type":"quantitative","scale":{"domain":[-2.64,22.96],"nice":false,"zero":false},"axis":null},
   "stroke":{"field":"k","type":"nominal","scale":{"domain":["e20","e50","e100","e200"],"range":["#e0242c","#ef6c00","#13b5c7","#2626d9"]},"legend":null}}},
 {"data":{"values":[{"v":11.018}]},"mark":{"type":"rule","color":"#22556a","strokeWidth":1,"strokeDash":[1,2]},
  "encoding":{"x":{"datum":{"year":2023,"month":9,"date":15,"hours":2,"minutes":34},"type":"temporal","axis":null},"x2":{"datum":{"year":2023,"month":11,"date":20,"hours":4,"minutes":31}},"y":{"field":"v","type":"quantitative","scale":{"domain":[-2.64,22.96],"nice":false,"zero":false},"axis":null}}},
 {"data":{"values":[{"v":19.496}]},"mark":{"type":"rule","color":"#d6c245","strokeWidth":1.5},
  "encoding":{"x":{"datum":{"year":2023,"month":9,"date":15,"hours":2,"minutes":34},"type":"temporal","axis":null},"x2":{"datum":{"year":2023,"month":11,"date":20,"hours":4,"minutes":31}},"y":{"field":"v","type":"quantitative","scale":{"domain":[-2.64,22.96],"nice":false,"zero":false},"axis":null}}},
 {"data":{"values":[{"v":11.772}]},"mark":{"type":"rule","color":"#f7e94c","strokeWidth":1.5},
  "encoding":{"x":{"datum":{"year":2023,"month":9,"date":15,"hours":2,"minutes":34},"type":"temporal","axis":null},"x2":{"datum":{"year":2023,"month":11,"date":20,"hours":4,"minutes":31}},"y":{"field":"v","type":"quantitative","scale":{"domain":[-2.64,22.96],"nice":false,"zero":false},"axis":null}}},
 {"data":{"values":[{"v":9.657}]},"mark":{"type":"rule","color":"#b3c1ad","strokeWidth":2},
  "encoding":{"x":{"datum":{"year":2023,"month":9,"date":15,"hours":2,"minutes":34},"type":"temporal","axis":null},"x2":{"datum":{"year":2023,"month":11,"date":20,"hours":4,"minutes":31}},"y":{"field":"v","type":"quantitative","scale":{"domain":[-2.64,22.96],"nice":false,"zero":false},"axis":null}}},
 {"data":{"name":"proj"},"mark":{"type":"line","color":"#e8eaf0","strokeWidth":1,"strokeDash":[1.5,1],"interpolate":"monotone"},
  "encoding":{"x":{"field":"t","type":"temporal","axis":null},"y":{"field":"p","type":"quantitative","scale":{"domain":[-2.64,22.96],"nice":false,"zero":false},"axis":null}}},
 {"data":{"name":"proj"},"transform":[{"filter":"datum.p > 18.5"}],"mark":{"type":"point","shape":"triangle-up","filled":true,"color":"#e8eaf0","size":22,"angle":22,"opacity":1},
  "encoding":{"x":{"field":"t","type":"temporal","axis":null},"y":{"field":"p","type":"quantitative","scale":{"domain":[-2.64,22.96],"nice":false,"zero":false},"axis":null}}},
 {"data":{"name":"ticks"},"mark":{"type":"text","align":"center","baseline":"middle","font":"Roboto","fontSize":5.9,"color":"#b2b5be"},
  "encoding":{"x":{"field":"d","type":"temporal","axis":null},"y":{"datum":-2.08,"type":"quantitative","scale":{"domain":[-2.64,22.96],"nice":false,"zero":false},"axis":null},"text":{"field":"lab"}}},
 {"data":{"values":[{"txt":"Chainlink / United States Dollar, 4h, COINBASE"}]},"mark":{"type":"text","align":"left","baseline":"middle","font":"DejaVu Sans","fontSize":5.4,"color":"#d1d4dc"},
  "encoding":{"x":{"datum":{"year":2023,"month":9,"date":15,"hours":11,"minutes":31},"type":"temporal","axis":null},"y":{"datum":22.32,"type":"quantitative","scale":{"domain":[-2.64,22.96],"nice":false,"zero":false},"axis":null},"text":{"field":"txt"}}},
 {"data":{"values":[{"txt":"O11.172  H11.172  L10.942  C11.018  −0.153 (−1.37%)"}]},"mark":{"type":"text","align":"left","baseline":"middle","font":"DejaVu Sans","fontSize":5.6,"color":"#f23645"},
  "encoding":{"x":{"datum":{"year":2023,"month":9,"date":27,"hours":16,"minutes":0},"type":"temporal","axis":null},"y":{"datum":22.32,"type":"quantitative","scale":{"domain":[-2.64,22.96],"nice":false,"zero":false},"axis":null},"text":{"field":"txt"}}},
 {"data":{"values":[{"txt":"EMA 20/50/100/200"}]},"mark":{"type":"text","align":"left","baseline":"middle","font":"DejaVu Sans","fontSize":5.4,"color":"#d1d4dc"},
  "encoding":{"x":{"datum":{"year":2023,"month":9,"date":15,"hours":11,"minutes":31},"type":"temporal","axis":null},"y":{"datum":21.6,"type":"quantitative","scale":{"domain":[-2.64,22.96],"nice":false,"zero":false},"axis":null},"text":{"field":"txt"}}},
 {"data":{"values":[{"txt":"10.968"}]},"mark":{"type":"text","align":"left","baseline":"middle","font":"Roboto","fontSize":5.9,"color":"#ff1a1a"},
  "encoding":{"x":{"datum":{"year":2023,"month":9,"date":21,"hours":2,"minutes":35},"type":"temporal","axis":null},"y":{"datum":21.6,"type":"quantitative","scale":{"domain":[-2.64,22.96],"nice":false,"zero":false},"axis":null},"text":{"field":"txt"}}},
 {"data":{"values":[{"txt":"10.205"}]},"mark":{"type":"text","align":"left","baseline":"middle","font":"Roboto","fontSize":5.9,"color":"#ff6d00"},
  "encoding":{"x":{"datum":{"year":2023,"month":9,"date":23,"hours":3,"minutes":12},"type":"temporal","axis":null},"y":{"datum":21.6,"type":"quantitative","scale":{"domain":[-2.64,22.96],"nice":false,"zero":false},"axis":null},"text":{"field":"txt"}}},
 {"data":{"values":[{"txt":"9.309"}]},"mark":{"type":"text","align":"left","baseline":"middle","font":"Roboto","fontSize":5.9,"color":"#00e5ff"},
  "encoding":{"x":{"datum":{"year":2023,"month":9,"date":25,"hours":4,"minutes":29},"type":"temporal","axis":null},"y":{"datum":21.6,"type":"quantitative","scale":{"domain":[-2.64,22.96],"nice":false,"zero":false},"axis":null},"text":{"field":"txt"}}},
 {"data":{"values":[{"txt":"8.453"}]},"mark":{"type":"text","align":"left","baseline":"middle","font":"Roboto","fontSize":5.9,"color":"#2b2bff"},
  "encoding":{"x":{"datum":{"year":2023,"month":9,"date":26,"hours":23,"minutes":2},"type":"temporal","axis":null},"y":{"datum":21.6,"type":"quantitative","scale":{"domain":[-2.64,22.96],"nice":false,"zero":false},"axis":null},"text":{"field":"txt"}}},
 {"data":{"values":[{"txt":"TV"}]},"mark":{"type":"text","align":"left","baseline":"middle","font":"DejaVu Sans","fontSize":6,"fontWeight":"bold","color":"#d1d4dc"},
  "encoding":{"x":{"datum":{"year":2023,"month":9,"date":15,"hours":4,"minutes":48},"type":"temporal","axis":null},"y":{"datum":-3.36,"type":"quantitative","scale":{"domain":[-2.64,22.96],"nice":false,"zero":false},"axis":null},"text":{"field":"txt"}}},
 {"data":{"values":[{"txt":"TradingView"}]},"mark":{"type":"text","align":"left","baseline":"middle","font":"DejaVu Sans","fontSize":6.4,"color":"#d1d4dc"},
  "encoding":{"x":{"datum":{"year":2023,"month":9,"date":16,"hours":4,"minutes":22},"type":"temporal","axis":null},"y":{"datum":-3.36,"type":"quantitative","scale":{"domain":[-2.64,22.96],"nice":false,"zero":false},"axis":null},"text":{"field":"txt"}}},
 {"data":{"values":[{"a":22.78,"b":21.76}]},"mark":{"type":"rect","fill":"#151924","stroke":"#434651","strokeWidth":1,"cornerRadius":2},
  "encoding":{"x":{"datum":{"year":2023,"month":11,"date":20,"hours":6,"minutes":43},"type":"temporal","axis":null},"x2":{"datum":{"year":2023,"month":11,"date":22,"hours":12,"minutes":29}},"y":{"field":"a","type":"quantitative","scale":{"domain":[-2.64,22.96],"nice":false,"zero":false},"axis":null},"y2":{"field":"b"}}},
 {"data":{"values":[{"txt":"USD"}]},"mark":{"type":"text","align":"center","baseline":"middle","fontSize":5.5,"color":"#d1d4dc"},
  "encoding":{"x":{"datum":{"year":2023,"month":11,"date":21,"hours":9,"minutes":36},"type":"temporal","axis":null},"y":{"datum":22.27,"type":"quantitative","scale":{"domain":[-2.64,22.96],"nice":false,"zero":false},"axis":null},"text":{"field":"txt"}}},
 {"data":{"values":[{"v":100.6}]},"mark":{"type":"rule","color":"#2a2e39","strokeWidth":1},
  "encoding":{"y":{"field":"v","type":"quantitative","scale":{"domain":[4.58,417.5],"nice":false,"zero":false},"axis":null}}},
 {"data":{"values":[{"a":70,"b":30}]},"mark":{"type":"rect","color":"#7e57c2","opacity":0.12},
  "encoding":{"x":{"datum":{"year":2023,"month":9,"date":15,"hours":2,"minutes":34},"type":"temporal","axis":null},"x2":{"datum":{"year":2023,"month":11,"date":20,"hours":4,"minutes":31}},"y":{"field":"a","type":"quantitative","scale":{"domain":[4.58,417.5],"nice":false,"zero":false},"axis":null},"y2":{"field":"b"}}},
 {"data":{"values":[{"v":70},{"v":30}]},"mark":{"type":"rule","color":"#787b86","strokeWidth":1,"strokeDash":[3,3]},
  "encoding":{"x":{"datum":{"year":2023,"month":9,"date":15,"hours":2,"minutes":34},"type":"temporal","axis":null},"x2":{"datum":{"year":2023,"month":11,"date":20,"hours":4,"minutes":31}},"y":{"field":"v","type":"quantitative","scale":{"domain":[4.58,417.5],"nice":false,"zero":false},"axis":null}}},
 {"data":{"values":[{"v":50}]},"mark":{"type":"rule","color":"#787b86","strokeWidth":1,"strokeDash":[2,2],"opacity":0.35},
  "encoding":{"x":{"datum":{"year":2023,"month":9,"date":15,"hours":2,"minutes":34},"type":"temporal","axis":null},"x2":{"datum":{"year":2023,"month":11,"date":20,"hours":4,"minutes":31}},"y":{"field":"v","type":"quantitative","scale":{"domain":[4.58,417.5],"nice":false,"zero":false},"axis":null}}},
 {"data":{"name":"r"},"transform":[{"filter":{"field":"t","range":[{"year":2023,"month":10,"date":21,"hours":12},{"year":2023,"month":10,"date":24,"hours":0}]}}],
  "mark":{"type":"area","color":"#4caf50","opacity":0.3},
  "encoding":{"x":{"field":"t","type":"temporal","axis":null},"y":{"field":"r","type":"quantitative","scale":{"domain":[4.58,417.5],"nice":false,"zero":false},"axis":null},"y2":{"datum":70}}},
 {"data":{"name":"r"},"mark":{"type":"line","color":"#7e57c2","strokeWidth":1},
  "encoding":{"x":{"field":"t","type":"temporal","axis":null},"y":{"field":"r","type":"quantitative","scale":{"domain":[4.58,417.5],"nice":false,"zero":false},"axis":null}}},
 {"data":{"name":"s"},"mark":{"type":"line","color":"#f2d21b","strokeWidth":1,"interpolate":"monotone"},
  "encoding":{"x":{"field":"t","type":"temporal","axis":null},"y":{"field":"s","type":"quantitative","scale":{"domain":[4.58,417.5],"nice":false,"zero":false},"axis":null}}},
 {"data":{"values":[{"txt":"RSI (14, close, SMA, 14, 2)"}]},"mark":{"type":"text","align":"left","baseline":"middle","font":"DejaVu Sans","fontSize":5.3,"color":"#d1d4dc"},
  "encoding":{"x":{"datum":{"year":2023,"month":9,"date":15,"hours":12,"minutes":12},"type":"temporal","axis":null},"y":{"datum":88.06,"type":"quantitative","scale":{"domain":[4.58,417.5],"nice":false,"zero":false},"axis":null},"text":{"field":"txt"}}},
 {"data":{"values":[{"txt":"54.31"}]},"mark":{"type":"text","align":"left","baseline":"middle","font":"Roboto","fontSize":5.9,"color":"#9575cd"},
  "encoding":{"x":{"datum":{"year":2023,"month":9,"date":22,"hours":16},"type":"temporal","axis":null},"y":{"datum":88.06,"type":"quantitative","scale":{"domain":[4.58,417.5],"nice":false,"zero":false},"axis":null},"text":{"field":"txt"}}},
 {"data":{"values":[{"txt":"58.00"}]},"mark":{"type":"text","align":"left","baseline":"middle","font":"Roboto","fontSize":6.4,"fontWeight":"bold","color":"#ffeb3b"},
  "encoding":{"x":{"datum":{"year":2023,"month":9,"date":24,"hours":8,"minutes":20},"type":"temporal","axis":null},"y":{"datum":88.06,"type":"quantitative","scale":{"domain":[4.58,417.5],"nice":false,"zero":false},"axis":null},"text":{"field":"txt"}}},
 {"data":{"values":[{"txt":"∅ ∅ ∅ ∅ ∅ ∅"}]},"mark":{"type":"text","align":"left","baseline":"middle","font":"DejaVu Sans","fontSize":5.5,"color":"#9598a1"},
  "encoding":{"x":{"datum":{"year":2023,"month":9,"date":26,"hours":5,"minutes":7},"type":"temporal","axis":null},"y":{"datum":88.06,"type":"quantitative","scale":{"domain":[4.58,417.5],"nice":false,"zero":false},"axis":null},"text":{"field":"txt"}}},
 {"data":{"values":[{"v":19.496}]},"mark":{"type":"rect","height":8,"color":"#f2dc3c"},
  "encoding":{"x":{"datum":{"year":2023,"month":11,"date":20,"hours":4,"minutes":31},"type":"temporal","axis":null},"x2":{"datum":{"year":2023,"month":11,"date":22,"hours":3,"minutes":33}},"y":{"field":"v","type":"quantitative","scale":{"domain":[-2.64,22.96],"nice":false,"zero":false},"axis":null}}},
 {"data":{"values":[{"v":19.496}]},"mark":{"type":"text","align":"center","baseline":"middle","fontSize":5.8,"color":"#131722"},
  "encoding":{"x":{"datum":{"year":2023,"month":11,"date":21,"hours":4,"minutes":2},"type":"temporal","axis":null},"y":{"field":"v","type":"quantitative","scale":{"domain":[-2.64,22.96],"nice":false,"zero":false},"axis":null},"text":{"field":"v","type":"quantitative","format":".3f"}}},
 {"data":{"name":"pt"},"mark":{"type":"rect","height":8},
  "encoding":{"x":{"datum":{"year":2023,"month":11,"date":20,"hours":4,"minutes":31},"type":"temporal","axis":null},"x2":{"datum":{"year":2023,"month":11,"date":22,"hours":3,"minutes":33}},
   "y":{"field":"v","type":"ordinal","sort":"descending","scale":{"type":"point","range":[140.7,192.7],"padding":0},"axis":null},
   "fill":{"field":"k","type":"nominal","scale":{"domain":["res","close","ema20","ema50","sup","ema100","ema200"],"range":["#ffeb3b","#f23645","#ff0000","#ff6d00","#c8d8c4","#00e5ff","#0000ff"]},"legend":null}}},
 {"data":{"name":"pt"},"mark":{"type":"text","align":"center","baseline":"middle","fontSize":5.8},
  "encoding":{"x":{"datum":{"year":2023,"month":11,"date":21,"hours":4,"minutes":2},"type":"temporal","axis":null},
   "y":{"field":"v","type":"ordinal","sort":"descending","scale":{"type":"point","range":[140.7,192.7],"padding":0},"axis":null},
   "text":{"field":"v","type":"quantitative","format":".3f"},
   "color":{"field":"k","type":"nominal","scale":{"domain":["res","close","ema20","ema50","sup","ema100","ema200"],"range":["#131722","#ffffff","#ffffff","#ffffff","#131722","#131722","#ffffff"]},"legend":null}}},
 {"data":{"name":"rt"},"mark":{"type":"rect","height":8},
  "encoding":{"x":{"datum":{"year":2023,"month":11,"date":20,"hours":4,"minutes":31},"type":"temporal","axis":null},"x2":{"datum":{"year":2023,"month":11,"date":22,"hours":3,"minutes":33}},
   "y":{"field":"v","type":"ordinal","sort":"descending","scale":{"type":"point","range":[264,289],"padding":0},"axis":null},
   "fill":{"field":"k","type":"nominal","scale":{"domain":["bbu","sma","rsi","bbl"],"range":["#ffffff","#ffeb3b","#7e57c2","#ffffff"]},"legend":null}}},
 {"data":{"name":"rt"},"mark":{"type":"text","align":"center","baseline":"middle","fontSize":5.8},
  "encoding":{"x":{"datum":{"year":2023,"month":11,"date":21,"hours":4,"minutes":2},"type":"temporal","axis":null},
   "y":{"field":"v","type":"ordinal","sort":"descending","scale":{"type":"point","range":[264,289],"padding":0},"axis":null},
   "text":{"field":"v","type":"quantitative","format":".2f"},
   "color":{"field":"k","type":"nominal","scale":{"domain":["bbu","sma","rsi","bbl"],"range":["#131722","#8a7800","#ffffff","#131722"]},"legend":null}}}
],
"resolve":{"scale":{"y":"independent","color":"independent","fill":"independent","stroke":"independent"},"axis":{"y":"independent"}}
}
